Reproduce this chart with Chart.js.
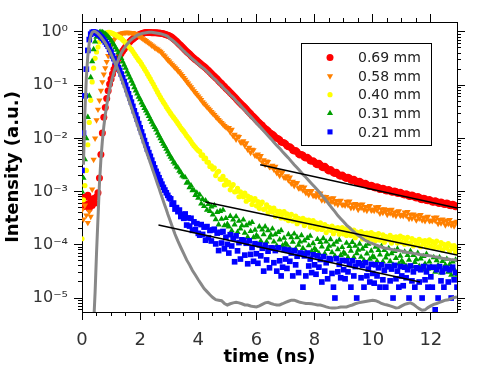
<!DOCTYPE html>
<html>
<head>
<meta charset="utf-8">
<script src="https://cdn.jsdelivr.net/npm/chart.js@4.4.0/dist/chart.umd.min.js"></script>
<style>
  html, body { margin: 0; padding: 0; background: #fff; }
</style>
</head>
<body>
<canvas id="myChart" width="478" height="385"></canvas>
<script>
// time axis of the measured traces (ns), 0.05 ns steps
const time = [
  0, 0.05, 0.1, 0.15, 0.2, 0.25, 0.3, 0.35, 0.4, 0.45,
  0.5, 0.55, 0.6, 0.65, 0.7, 0.75, 0.8, 0.85, 0.9, 0.95,
  1, 1.05, 1.1, 1.15, 1.2, 1.25, 1.3, 1.35, 1.4, 1.45,
  1.5, 1.55, 1.6, 1.65, 1.7, 1.75, 1.8, 1.85, 1.9, 1.95,
  2, 2.05, 2.1, 2.15, 2.2, 2.25, 2.3, 2.35, 2.4, 2.45,
  2.5, 2.55, 2.6, 2.65, 2.7, 2.75, 2.8, 2.85, 2.9, 2.95,
  3,
  3.05, 3.1, 3.15, 3.2, 3.25, 3.3, 3.35, 3.4, 3.45, 3.5,
  3.55, 3.6, 3.65, 3.7, 3.75, 3.8, 3.85, 3.9, 3.95, 4,
  4.05, 4.1, 4.15, 4.2, 4.25, 4.3, 4.35, 4.4, 4.45, 4.5,
  4.55, 4.6, 4.65, 4.7, 4.75, 4.8, 4.85, 4.9, 4.95, 5,
  5.05, 5.1, 5.15, 5.2, 5.25, 5.3, 5.35, 5.4, 5.45, 5.5,
  5.55, 5.6, 5.65, 5.7, 5.75, 5.8, 5.85, 5.9, 5.95, 6,
  6.05, 6.1, 6.15, 6.2, 6.25, 6.3, 6.35, 6.4, 6.45, 6.5,
  6.55, 6.6, 6.65, 6.7, 6.75, 6.8, 6.85, 6.9, 6.95, 7,
  7.05, 7.1, 7.15, 7.2, 7.25, 7.3, 7.35, 7.4, 7.45, 7.5,
  7.55, 7.6, 7.65, 7.7, 7.75, 7.8, 7.85, 7.9, 7.95, 8,
  8.05, 8.1, 8.15, 8.2, 8.25, 8.3, 8.35, 8.4, 8.45, 8.5,
  8.55, 8.6, 8.65, 8.7, 8.75, 8.8, 8.85, 8.9, 8.95, 9,
  9.05, 9.1, 9.15, 9.2, 9.25, 9.3, 9.35, 9.4, 9.45, 9.5,
  9.55, 9.6, 9.65, 9.7, 9.75, 9.8, 9.85, 9.9, 9.95, 10,
  10.05, 10.1, 10.15, 10.2, 10.25, 10.3, 10.35, 10.4, 10.45, 10.5,
  10.55, 10.6, 10.65, 10.7, 10.75, 10.8, 10.85, 10.9, 10.95, 11,
  11.05, 11.1, 11.15, 11.2, 11.25, 11.3, 11.35, 11.4, 11.45, 11.5,
  11.55, 11.6, 11.65, 11.7, 11.75, 11.8, 11.85, 11.9, 11.95, 12,
  12.05, 12.1, 12.15, 12.2, 12.25, 12.3, 12.35, 12.4, 12.45, 12.5,
  12.55, 12.6, 12.65, 12.7, 12.75, 12.8, 12.85, 12.9
];

// 0.69 mm
const red = [
  6.5e-4, 5.2e-4, 7.8e-4, 5.8e-4, 8.5e-4, 4.8e-4, 6.9e-4, 5.5e-4, 7.4e-4, 6.1e-4,
  8.0e-4, 9.5e-4, 1.8e-3, 5.0e-3, 1.26e-2, 2.5e-2, 3.8e-2, 5.6e-2, 7.9e-2, 0.105,
  0.13, 0.162, 0.2, 0.234, 0.275, 0.316, 0.355, 0.4, 0.44, 0.48,
  0.52, 0.575, 0.62, 0.66, 0.71, 0.74, 0.78, 0.81, 0.85, 0.88,
  0.91, 0.93, 0.95, 0.97, 0.98, 0.98, 0.98, 0.98, 0.97, 0.97,
  0.97, 0.965, 0.96, 0.955, 0.95, 0.94, 0.93, 0.91, 0.89, 0.87,
  0.85,
  0.82, 0.79, 0.75, 0.71, 0.67, 0.63, 0.59, 0.555, 0.52, 0.49,
  0.46, 0.43, 0.405, 0.385, 0.36, 0.34, 0.32, 0.305, 0.29, 0.275,
  0.26, 0.247, 0.235, 0.224, 0.212, 0.2, 0.188, 0.177, 0.166, 0.156,
  0.147, 0.138, 0.13, 0.121, 0.114, 0.107, 0.1, 0.094, 0.088, 0.083,
  0.078, 0.073, 0.068, 0.064, 0.06, 0.056, 0.052, 0.049, 0.046, 0.043,
  0.0405, 0.038, 0.0355, 0.033, 0.031, 0.029, 0.027, 0.0255, 0.024, 0.0225,
  0.0208, 0.0197, 0.0184, 0.0176, 0.0162, 0.0154, 0.0147, 0.0139, 0.0129, 0.0124,
  0.0119, 0.0113, 0.0105, 0.0101, 9.9e-3, 9.4e-3, 8.6e-3, 8.4e-3, 8.3e-3, 7.9e-3,
  7.3e-3, 7.0e-3, 7.0e-3, 6.6e-3, 6.0e-3, 5.8e-3, 5.9e-3, 5.6e-3, 5.1e-3, 4.9e-3,
  5.0e-3, 4.8e-3, 4.4e-3, 4.3e-3, 4.4e-3, 4.2e-3, 3.8e-3, 3.7e-3, 3.8e-3, 3.6e-3,
  3.3e-3, 3.2e-3, 3.4e-3, 3.2e-3, 2.9e-3, 2.8e-3, 3.0e-3, 2.8e-3, 2.55e-3, 2.45e-3,
  2.6e-3, 2.45e-3, 2.25e-3, 2.2e-3, 2.3e-3, 2.15e-3, 2.0e-3, 1.95e-3, 2.05e-3, 1.95e-3,
  1.82e-3, 1.76e-3, 1.86e-3, 1.8e-3, 1.66e-3, 1.62e-3, 1.7e-3, 1.62e-3, 1.5e-3, 1.46e-3,
  1.56e-3, 1.5e-3, 1.4e-3, 1.38e-3, 1.44e-3, 1.36e-3, 1.28e-3, 1.25e-3, 1.32e-3, 1.28e-3,
  1.2e-3, 1.17e-3, 1.24e-3, 1.19e-3, 1.1e-3, 1.09e-3, 1.16e-3, 1.12e-3, 1.04e-3, 1.03e-3,
  1.09e-3, 1.05e-3, 9.8e-4, 9.7e-4, 1.03e-3, 1.0e-3, 9.3e-4, 9.2e-4, 9.7e-4, 9.3e-4,
  8.8e-4, 8.6e-4, 9.1e-4, 8.8e-4, 8.2e-4, 8.1e-4, 8.6e-4, 8.4e-4, 7.8e-4, 7.6e-4,
  8.1e-4, 7.8e-4, 7.2e-4, 7.0e-4, 7.5e-4, 7.3e-4, 6.8e-4, 6.7e-4, 7.1e-4, 6.8e-4,
  6.4e-4, 6.3e-4, 6.7e-4, 6.5e-4, 6.1e-4, 6.0e-4, 6.4e-4, 6.2e-4, 5.8e-4, 5.7e-4,
  6.1e-4, 5.9e-4, 5.5e-4, 5.4e-4, 5.8e-4, 5.6e-4, 5.2e-4, 5.3e-4
];

// 0.58 mm
const orange = [
  4.5e-4, 3.0e-4, 5.5e-4, 3.6e-4, 2.6e-4, 4.2e-4, 3.4e-4, 1.1e-3, 4.0e-3, 1.0e-2,
  2.2e-2, 3.5e-2, 5.2e-2, 7.9e-2, 0.115, 0.16, 0.21, 0.275, 0.355, 0.45,
  0.55, 0.63, 0.71, 0.78, 0.83, 0.87, 0.91, 0.93, 0.95, 0.97,
  0.98, 0.98, 0.98, 0.97, 0.97, 0.96, 0.93, 0.91, 0.89, 0.85,
  0.81, 0.78, 0.74, 0.71, 0.68, 0.65, 0.62, 0.59, 0.56, 0.54,
  0.51, 0.49, 0.47, 0.45, 0.43, 0.40, 0.37, 0.35, 0.32, 0.30,
  0.28,
  0.262, 0.245, 0.229, 0.214, 0.2, 0.186, 0.174, 0.162, 0.15, 0.138,
  0.127, 0.117, 0.108, 0.1, 0.092, 0.085, 0.078, 0.072, 0.067, 0.062,
  0.057, 0.053, 0.048, 0.045, 0.042, 0.039, 0.0365, 0.034, 0.0315, 0.0295,
  0.0278, 0.0257, 0.024, 0.0224, 0.021, 0.0197, 0.0184, 0.0172, 0.0164, 0.0155,
  0.0158, 0.0131, 0.0146, 0.0111, 0.0118, 9.6e-3, 0.011, 0.0107, 8.5e-3, 8.4e-3,
  8.9e-3, 7.4e-3, 8.2e-3, 6.2e-3, 6.7e-3, 5.4e-3, 6.2e-3, 6.05e-3, 4.8e-3, 4.75e-3,
  5.0e-3, 4.15e-3, 4.7e-3, 3.6e-3, 3.9e-3, 3.2e-3, 3.7e-3, 3.65e-3, 2.9e-3, 2.95e-3,
  3.1e-3, 2.6e-3, 2.95e-3, 2.25e-3, 2.45e-3, 2.0e-3, 2.3e-3, 2.3e-3, 1.84e-3, 1.85e-3,
  1.97e-3, 1.65e-3, 1.86e-3, 1.42e-3, 1.54e-3, 1.28e-3, 1.46e-3, 1.45e-3, 1.16e-3, 1.16e-3,
  1.25e-3, 1.06e-3, 1.21e-3, 9.5e-4, 1.04e-3, 8.8e-4, 1.02e-3, 1.03e-3, 8.4e-4, 8.6e-4,
  8.1e-4, 9.4e-4, 8.1e-4, 9.3e-4, 6.9e-4, 8.1e-4, 6.8e-4, 8.0e-4, 7.2e-4, 6.1e-4,
  7.5e-4, 6.5e-4, 7.6e-4, 6.0e-4, 6.7e-4, 5.7e-4, 6.7e-4, 6.8e-4, 5.6e-4, 5.8e-4,
  5.5e-4, 6.5e-4, 5.6e-4, 6.6e-4, 4.95e-4, 5.8e-4, 5.0e-4, 5.9e-4, 5.4e-4, 4.6e-4,
  5.7e-4, 5.0e-4, 5.8e-4, 4.6e-4, 5.2e-4, 4.4e-4, 5.2e-4, 5.4e-4, 4.45e-4, 4.65e-4,
  4.4e-4, 5.1e-4, 4.5e-4, 5.2e-4, 3.9e-4, 4.65e-4, 4.0e-4, 4.7e-4, 4.3e-4, 3.7e-4,
  4.55e-4, 3.95e-4, 4.6e-4, 3.65e-4, 4.1e-4, 3.5e-4, 4.2e-4, 4.3e-4, 3.55e-4, 3.7e-4,
  3.5e-4, 4.1e-4, 3.55e-4, 4.15e-4, 3.1e-4, 3.7e-4, 3.15e-4, 3.75e-4, 3.45e-4, 2.9e-4,
  3.6e-4, 3.15e-4, 3.65e-4, 2.9e-4, 3.25e-4, 2.8e-4, 3.3e-4, 3.4e-4, 2.8e-4, 2.9e-4,
  2.8e-4, 3.25e-4, 2.85e-4, 3.3e-4, 2.5e-4, 2.95e-4, 2.55e-4, 3.0e-4, 2.75e-4, 2.35e-4,
  2.9e-4, 2.5e-4, 2.95e-4, 2.35e-4, 2.6e-4, 2.25e-4, 2.65e-4, 2.75e-4
];

// 0.40 mm
const yellow = [
  1.3e-4, 7.0e-4, 1.3e-3, 2.5e-3, 7.6e-3, 2.0e-2, 5.2e-2, 0.115, 0.21, 0.32,
  0.42, 0.52, 0.65, 0.76, 0.83, 0.89, 0.93, 0.96, 0.98, 0.98,
  0.96, 0.94, 0.91, 0.89, 0.85, 0.82, 0.79, 0.76, 0.71, 0.67,
  0.63, 0.59, 0.54, 0.5, 0.47, 0.43, 0.39, 0.355, 0.324, 0.295,
  0.275, 0.248, 0.224, 0.202, 0.182, 0.163, 0.146, 0.131, 0.117, 0.105,
  0.093, 0.083, 0.074, 0.066, 0.059, 0.053, 0.048, 0.0437, 0.039, 0.0355,
  0.0324,
  0.0295, 0.0269, 0.0248, 0.0229, 0.0209, 0.0191, 0.0174, 0.0158, 0.0146, 0.0135,
  0.0123, 0.0112, 0.0104, 9.6e-3, 8.7e-3, 7.9e-3, 7.3e-3, 6.8e-3, 6.3e-3, 5.9e-3,
  5.7e-3, 4.8e-3, 4.9e-3, 4.15e-3, 4.25e-3, 3.6e-3, 3.55e-3, 2.97e-3, 3.05e-3, 2.65e-3,
  2.8e-3, 2.0e-3, 2.3e-3, 2.4e-3, 1.72e-3, 1.7e-3, 1.93e-3, 1.33e-3, 1.62e-3, 1.38e-3,
  1.49e-3, 1.08e-3, 1.26e-3, 1.36e-3, 9.9e-4, 1.0e-3, 1.15e-3, 8.0e-4, 9.85e-4, 8.5e-4,
  8.0e-4, 9.35e-4, 6.6e-4, 8.2e-4, 7.1e-4, 7.75e-4, 5.75e-4, 6.8e-4, 7.35e-4, 5.4e-4,
  6.5e-4, 4.85e-4, 5.8e-4, 6.35e-4, 4.65e-4, 4.75e-4, 5.65e-4, 4.0e-4, 5.0e-4, 4.4e-4,
  4.15e-4, 4.9e-4, 3.45e-4, 4.3e-4, 3.8e-4, 4.25e-4, 3.2e-4, 3.8e-4, 4.2e-4, 3.1e-4,
  3.8e-4, 2.85e-4, 3.4e-4, 3.75e-4, 2.8e-4, 2.95e-4, 3.45e-4, 2.5e-4, 3.15e-4, 2.8e-4,
  2.7e-4, 3.15e-4, 2.3e-4, 2.9e-4, 2.6e-4, 2.9e-4, 2.15e-4, 2.6e-4, 2.85e-4, 2.1e-4,
  2.6e-4, 1.97e-4, 2.35e-4, 2.6e-4, 1.95e-4, 2.05e-4, 2.4e-4, 1.7e-4, 2.2e-4, 1.95e-4,
  1.87e-4, 2.25e-4, 1.62e-4, 2.05e-4, 1.85e-4, 2.1e-4, 1.58e-4, 1.9e-4, 2.1e-4, 1.6e-4,
  1.97e-4, 1.5e-4, 1.8e-4, 2.0e-4, 1.5e-4, 1.58e-4, 1.88e-4, 1.36e-4, 1.73e-4, 1.55e-4,
  1.5e-4, 1.78e-4, 1.29e-4, 1.63e-4, 1.46e-4, 1.66e-4, 1.26e-4, 1.52e-4, 1.69e-4, 1.27e-4,
  1.57e-4, 1.2e-4, 1.45e-4, 1.62e-4, 1.22e-4, 1.28e-4, 1.54e-4, 1.12e-4, 1.43e-4, 1.29e-4,
  1.24e-4, 1.5e-4, 1.08e-4, 1.38e-4, 1.24e-4, 1.41e-4, 1.08e-4, 1.31e-4, 1.46e-4, 1.11e-4,
  1.37e-4, 1.03e-4, 1.25e-4, 1.38e-4, 1.04e-4, 1.09e-4, 1.31e-4, 9.5e-5, 1.21e-4, 1.1e-4,
  1.05e-4, 1.27e-4, 9.2e-5, 1.17e-4, 1.05e-4, 1.2e-4, 9.1e-5, 1.11e-4, 1.24e-4, 9.5e-5,
  1.15e-4, 8.8e-5, 1.06e-4, 1.18e-4, 8.9e-5, 9.3e-5, 1.1e-4, 8.0e-5, 1.02e-4, 9.1e-5,
  8.7e-5, 1.05e-4, 7.6e-5, 9.6e-5, 8.6e-5, 9.7e-5, 7.4e-5, 8.9e-5
];

// 0.31 mm
const green = [
  1.0e-3, 1.8e-3, 4.0e-3, 1.0e-2, 2.5e-2, 6.3e-2, 0.14, 0.28, 0.47, 0.66,
  0.81, 0.91, 0.98, 1.0, 0.98, 0.95, 0.91, 0.87, 0.81, 0.76,
  0.69, 0.63, 0.575, 0.51, 0.46, 0.41, 0.36, 0.32, 0.275, 0.24,
  0.21, 0.18, 0.158, 0.138, 0.12, 0.105, 0.091, 0.079, 0.069, 0.06,
  0.054, 0.047, 0.042, 0.037, 0.033, 0.0295, 0.026, 0.023, 0.0204, 0.018,
  0.0162, 0.0145, 0.0126, 0.0112, 0.01, 8.9e-3, 7.9e-3, 7.1e-3, 6.3e-3, 5.6e-3,
  5.0e-3,
  4.5e-3, 4.1e-3, 3.6e-3, 3.35e-3, 2.95e-3, 2.8e-3, 2.45e-3, 2.3e-3, 2.0e-3, 1.9e-3,
  1.84e-3, 1.46e-3, 1.5e-3, 1.2e-3, 1.3e-3, 1.05e-3, 1.06e-3, 8.6e-4, 9.5e-4, 7.6e-4,
  8.7e-4, 5.9e-4, 7.2e-4, 5.3e-4, 6.8e-4, 4.5e-4, 5.8e-4, 4.3e-4, 5.2e-4, 3.7e-4,
  5.5e-4, 3.0e-4, 4.1e-4, 2.4e-4, 4.3e-4, 3.05e-4, 4.5e-4, 2.3e-4, 3.15e-4, 2.45e-4,
  2.2e-4, 3.45e-4, 1.85e-4, 2.95e-4, 2.4e-4, 3.4e-4, 1.73e-4, 2.8e-4, 2.0e-4, 2.3e-4,
  2.95e-4, 1.67e-4, 2.3e-4, 1.39e-4, 2.5e-4, 1.8e-4, 2.65e-4, 1.38e-4, 1.9e-4, 1.5e-4,
  1.4e-4, 2.2e-4, 1.18e-4, 1.92e-4, 1.56e-4, 2.2e-4, 1.14e-4, 1.87e-4, 1.36e-4, 1.54e-4,
  2.0e-4, 1.14e-4, 1.57e-4, 9.6e-5, 1.72e-4, 1.25e-4, 1.86e-4, 9.7e-5, 1.34e-4, 1.07e-4,
  9.9e-5, 1.57e-4, 8.5e-5, 1.38e-4, 1.13e-4, 1.61e-4, 8.4e-5, 1.38e-4, 9.9e-5, 1.14e-4,
  1.5e-4, 8.6e-5, 1.19e-4, 7.3e-5, 1.33e-4, 9.7e-5, 1.46e-4, 7.5e-5, 1.06e-4, 8.5e-5,
  7.9e-5, 1.27e-4, 6.9e-5, 1.12e-4, 9.2e-5, 1.32e-4, 6.8e-5, 1.14e-4, 8.3e-5, 9.5e-5,
  1.26e-4, 7.2e-5, 1.0e-4, 6.2e-5, 1.13e-4, 8.2e-5, 1.23e-4, 6.4e-5, 9.0e-5, 7.2e-5,
  6.7e-5, 1.08e-4, 5.8e-5, 9.4e-5, 7.7e-5, 1.12e-4, 5.8e-5, 9.5e-5, 6.9e-5, 8.0e-5,
  1.04e-4, 5.9e-5, 8.4e-5, 5.1e-5, 9.4e-5, 6.8e-5, 1.04e-4, 5.4e-5, 7.7e-5, 6.1e-5,
  5.8e-5, 9.1e-5, 4.9e-5, 7.9e-5, 6.5e-5, 9.4e-5, 4.8e-5, 7.9e-5, 5.7e-5, 6.6e-5,
  8.6e-5, 4.9e-5, 6.9e-5, 4.2e-5, 7.6e-5, 5.6e-5, 8.4e-5, 4.4e-5, 6.2e-5, 5.0e-5,
  4.6e-5, 7.4e-5, 4.0e-5, 6.4e-5, 5.2e-5, 7.6e-5, 3.9e-5, 6.4e-5, 4.7e-5, 5.3e-5,
  7.0e-5, 4.0e-5, 5.5e-5, 3.4e-5, 6.1e-5, 4.4e-5, 6.7e-5, 3.5e-5, 4.8e-5, 3.9e-5,
  3.6e-5, 5.8e-5, 3.1e-5, 5.1e-5, 4.1e-5, 5.8e-5, 3.0e-5, 4.9e-5, 3.6e-5, 4.2e-5,
  5.4e-5, 3.1e-5, 4.3e-5, 2.7e-5, 4.8e-5, 3.5e-5, 5.2e-5, 2.7e-5
];

// 0.21 mm
const blue = [
  2.5e-3, 1.26e-2, 6.3e-2, 0.2, 0.45, 0.72, 0.91, 0.98, 1.0, 0.98,
  0.95, 0.91, 0.87, 0.81, 0.76, 0.71, 0.65, 0.59, 0.54, 0.47,
  0.42, 0.355, 0.316, 0.275, 0.245, 0.214, 0.19, 0.162, 0.138, 0.117,
  0.1, 0.083, 0.069, 0.0575, 0.048, 0.04, 0.033, 0.0275, 0.023, 0.019,
  0.0158, 0.0132, 0.011, 9.1e-3, 7.6e-3, 6.3e-3, 5.4e-3, 4.6e-3, 3.9e-3, 3.3e-3,
  2.8e-3, 2.4e-3, 2.1e-3, 1.82e-3, 1.58e-3, 1.38e-3, 1.2e-3, 1.07e-3, 9.5e-4, 8.5e-4,
  7.6e-4,
  7.3e-4, 5.8e-4, 6.1e-4, 4.7e-4, 5.0e-4, 4.2e-4, 4.5e-4, 3.4e-4, 3.7e-4, 3.15e-4,
  3.8e-4, 2.35e-4, 3.2e-4, 2.25e-4, 3.15e-4, 1.87e-4, 2.7e-4, 1.93e-4, 2.5e-4, 1.64e-4,
  1.52e-4, 2.4e-4, 1.57e-4, 2.15e-4, 1.22e-4, 2.2e-4, 1.36e-4, 1.86e-4, 1.18e-4, 1.9e-4,
  1.96e-4, 1.04e-4, 1.66e-4, 7.8e-5, 1.72e-4, 1.08e-4, 1.78e-4, 8.4e-5, 1.39e-4, 1.02e-4,
  7.0e-5, 1.55e-4, 9.5e-5, 1.32e-4, 4.8e-5, 1.47e-4, 7.7e-5, 1.1e-4, 5.4e-5, 1.24e-4,
  1.21e-4, 6.4e-5, 1.07e-4, 4.4e-5, 1.19e-4, 6.6e-5, 8.9e-5, 4.9e-5, 1.05e-4, 6.8e-5,
  4.5e-5, 1.0e-4, 6.2e-5, 8.6e-5, 3.2e-5, 9.8e-5, 5.2e-5, 7.6e-5, 3.7e-5, 8.8e-5,
  8.7e-5, 4.6e-5, 7.8e-5, 3.2e-5, 8.8e-5, 5.0e-5, 2.6e-5, 3.8e-5, 8.2e-5, 5.4e-5,
  3.6e-5, 8.0e-5, 4.9e-5, 7.0e-5, 2.6e-5, 7.8e-5, 4.2e-5, 6.1e-5, 3.0e-5, 7.0e-5,
  6.9e-5, 1.6e-5, 6.2e-5, 2.6e-5, 7.0e-5, 4.0e-5, 5.4e-5, 3.0e-5, 6.5e-5, 4.2e-5,
  2.8e-5, 6.2e-5, 3.8e-5, 5.3e-5, 2.0e-5, 6.0e-5, 3.2e-5, 4.6e-5, 2.3e-5, 5.5e-5,
  5.3e-5, 2.9e-5, 1.6e-5, 1.0e-5, 5.5e-5, 3.1e-5, 4.3e-5, 2.4e-5, 5.1e-5, 3.4e-5,
  2.3e-5, 5.0e-5, 3.1e-5, 4.3e-5, 1.6e-5, 5.0e-5, 2.6e-5, 3.9e-5, 1.0e-5, 4.6e-5,
  4.4e-5, 2.4e-5, 4.1e-5, 1.6e-5, 4.6e-5, 2.6e-5, 3.5e-5, 2.0e-5, 4.3e-5, 2.9e-5,
  1.9e-5, 4.2e-5, 2.6e-5, 3.7e-5, 1.6e-5, 4.2e-5, 2.2e-5, 3.3e-5, 1.6e-5, 3.9e-5,
  3.9e-5, 2.1e-5, 3.5e-5, 1.0e-5, 4.1e-5, 2.3e-5, 3.2e-5, 1.6e-5, 3.9e-5, 2.6e-5,
  1.7e-5, 3.8e-5, 2.4e-5, 3.4e-5, 1.0e-5, 4.0e-5, 2.1e-5, 3.1e-5, 1.6e-5, 3.7e-5,
  3.6e-5, 2.0e-5, 3.4e-5, 1.0e-5, 3.9e-5, 2.2e-5, 3.1e-5, 1.6e-5, 3.8e-5, 2.5e-5,
  1.6e-5, 3.8e-5, 6.0e-6, 3.4e-5, 1.0e-5, 3.9e-5, 2.1e-5, 3.1e-5, 1.6e-5, 3.6e-5,
  3.6e-5, 2.0e-5, 3.4e-5, 1.0e-5, 3.8e-5, 2.2e-5, 3.0e-5, 1.6e-5
];

// time axis of the two grey curves (ns)
const curveTime = [
  0, 0.05, 0.1, 0.15, 0.2, 0.25, 0.3, 0.35, 0.4, 0.45,
  0.5, 0.55, 0.6, 0.65, 0.7, 0.75, 0.8, 0.85, 0.9, 0.95,
  1, 1.05, 1.1, 1.15, 1.2, 1.25, 1.3, 1.35, 1.4, 1.45,
  1.5, 1.55, 1.6, 1.65, 1.7, 1.75, 1.8, 1.85, 1.9, 1.95,
  2, 2.05, 2.1, 2.15, 2.2, 2.25, 2.3, 2.35, 2.4, 2.45,
  2.5, 2.55, 2.6, 2.65, 2.7, 2.75, 2.8, 2.85, 2.9, 2.95,
  3,
  3.1, 3.2, 3.3, 3.4, 3.5, 3.6, 3.7, 3.8, 3.9, 4,
  4.1, 4.2, 4.3, 4.4, 4.5, 4.6, 4.7, 4.8, 4.9, 5,
  5.1, 5.2, 5.3, 5.4, 5.5, 5.6, 5.7, 5.8, 5.9, 6,
  6.1, 6.2, 6.3, 6.4, 6.5, 6.6, 6.7, 6.8, 6.9, 7,
  7.1, 7.2, 7.3, 7.4, 7.5, 7.6, 7.7, 7.8, 7.9, 8,
  8.1, 8.2, 8.3, 8.4, 8.5, 8.6, 8.7, 8.8, 8.9, 9,
  9.1, 9.2, 9.3, 9.4, 9.5, 9.6, 9.7, 9.8, 9.9, 10,
  10.1, 10.2, 10.3, 10.4, 10.5, 10.6, 10.7, 10.8, 10.9, 11,
  11.1, 11.2, 11.3, 11.4, 11.5, 11.6, 11.7, 11.8, 11.9, 12,
  12.1, 12.2, 12.3, 12.4, 12.5, 12.6, 12.7, 12.8, 12.9
];

// grey curve along the 0.21 mm trace (instrument response)
const irf = [
  null, 3.2e-3, 3.2e-2, 0.14, 0.355, 0.63, 0.85, 0.98, 1.02, 1.02,
  0.98, 0.93, 0.87, 0.81, 0.74, 0.68, 0.62, 0.55, 0.49, 0.44,
  0.38, 0.33, 0.29, 0.25, 0.22, 0.186, 0.158, 0.135, 0.115, 0.095,
  0.079, 0.066, 0.055, 0.046, 0.038, 0.0316, 0.0263, 0.0219, 0.0182, 0.0151,
  0.0126, 0.0105, 8.7e-3, 7.2e-3, 6.0e-3, 5.0e-3, 4.2e-3, 3.5e-3, 2.9e-3, 2.4e-3,
  2.0e-3, 1.66e-3, 1.38e-3, 1.15e-3, 9.5e-4, 7.9e-4, 6.6e-4, 5.5e-4, 4.6e-4, 3.8e-4,
  3.2e-4,
  2.24e-4, 1.58e-4, 1.17e-4, 8.9e-5, 6.8e-5, 5.2e-5, 4.2e-5, 3.3e-5, 2.7e-5, 2.2e-5,
  1.82e-5, 1.51e-5, 1.32e-5, 1.15e-5, 1.02e-5, 9.3e-6, 9.1e-6, 8.9e-6, 7.9e-6, 7.4e-6,
  7.8e-6, 8.1e-6, 8.3e-6, 8.1e-6, 7.8e-6, 7.4e-6, 7.4e-6, 7.1e-6, 6.9e-6, 6.8e-6,
  7.1e-6, 7.6e-6, 8.1e-6, 8.3e-6, 7.9e-6, 7.6e-6, 7.4e-6, 7.4e-6, 7.8e-6, 8.3e-6,
  8.7e-6, 9.1e-6, 9.1e-6, 8.7e-6, 8.3e-6, 8.1e-6, 7.9e-6, 7.9e-6, 7.8e-6, 7.6e-6,
  7.4e-6, 7.4e-6, 7.1e-6, 6.8e-6, 6.6e-6, 6.5e-6, 6.5e-6, 6.6e-6, 6.8e-6, 6.8e-6,
  6.8e-6, 7.1e-6, 7.4e-6, 7.8e-6, 8.1e-6, 8.3e-6, 8.5e-6, 8.7e-6, 8.9e-6, 9.1e-6,
  8.9e-6, 8.5e-6, 7.9e-6, 7.6e-6, 7.4e-6, 7.1e-6, 6.8e-6, 6.5e-6, 6.6e-6, 7.1e-6,
  7.6e-6, 7.9e-6, 8.1e-6, 7.6e-6, 6.9e-6, 6.3e-6, 5.9e-6, 6.0e-6, 6.6e-6, 7.1e-6,
  7.6e-6, 7.9e-6, 8.3e-6, 8.7e-6, 9.1e-6, 9.3e-6, 9.8e-6, 1.02e-5, 1.05e-5
];

// grey curve along the 0.69 mm trace
const model = [
  null, null, null, null, null, null, null, null, 3.2e-6, 1.26e-5,
  7.1e-5, 3.2e-4, 1.4e-3, 4.0e-3, 8.9e-3, 0.0166, 0.0275, 0.042, 0.06, 0.083,
  0.11, 0.14, 0.178, 0.214, 0.257, 0.30, 0.35, 0.4, 0.45, 0.49,
  0.54, 0.59, 0.63, 0.68, 0.72, 0.76, 0.79, 0.83, 0.87, 0.89,
  0.91, 0.93, 0.95, 0.96, 0.97, 0.98, 0.99, 0.99, 0.99, 0.98,
  0.97, 0.96, 0.95, 0.94, 0.93, 0.91, 0.89, 0.87, 0.85, 0.82,
  0.77,
  0.71, 0.64, 0.57, 0.5, 0.44, 0.39, 0.35, 0.31, 0.28, 0.25,
  0.225, 0.205, 0.182, 0.162, 0.141, 0.126, 0.11, 0.098, 0.085, 0.076,
  0.066, 0.059, 0.051, 0.045, 0.039, 0.034, 0.0295, 0.0257, 0.0224, 0.0195,
  0.017, 0.0148, 0.0129, 0.0112, 9.8e-3, 8.5e-3, 7.4e-3, 6.5e-3, 5.6e-3, 4.9e-3,
  4.3e-3, 3.7e-3, 3.2e-3, 2.8e-3, 2.45e-3, 2.1e-3, 1.86e-3, 1.62e-3, 1.41e-3, 1.23e-3,
  1.07e-3, 9.3e-4, 7.9e-4, 6.8e-4, 5.75e-4, 4.9e-4, 4.2e-4, 3.55e-4, 3.1e-4, 2.7e-4,
  2.35e-4, 2.1e-4, 1.86e-4, 1.66e-4, 1.51e-4, 1.38e-4, 1.26e-4, 1.17e-4, 1.1e-4, 1.05e-4,
  1.0e-4, 9.5e-5, 9.1e-5, 8.7e-5, 8.5e-5, 8.3e-5, 8.1e-5, 7.9e-5, 7.8e-5, 7.6e-5,
  7.4e-5, 7.2e-5, 7.1e-5, 6.9e-5, 6.8e-5, 6.6e-5, 6.5e-5, 6.3e-5, 6.3e-5, 6.2e-5,
  6.0e-5, 5.9e-5, 5.75e-5, 5.6e-5, 5.5e-5, 5.4e-5, 5.25e-5, 5.25e-5, 5.1e-5
];

// straight tail fits (start / end)
const fitAT = [6.13, 12.9], fitAI = [3.2e-3, 4.9e-4];
const fitBT = [4.24, 12.9], fitBI = [6.4e-4, 6.4e-5];
const fitCT = [2.63, 11.63], fitCI = [2.35e-4, 2.0e-5];

const seriesNames = ['0.69 mm', '0.58 mm', '0.40 mm', '0.31 mm', '0.21 mm'];
const timeLabels = [0, 2, 4, 6, 8, 10, 12];
const decades = [1, 1e-1, 1e-2, 1e-3, 1e-4, 1e-5];

const yMin = 5.46e-6, yMax = 1.54;
const tMin = 0, tMax = 12.9;

Chart.defaults.font.family = 'DejaVu Sans';

function pairs(ts, ys) {
  return ts.map((t, i) => ({x: t, y: ys[i]}));
}

const supMap = {'-': '\u207B', '0': '\u2070', '1': '\u00B9', '2': '\u00B2', '3': '\u00B3', '4': '\u2074', '5': '\u2075'};
function decadeLabel(v) {
  const e = Math.log10(v);
  const r = Math.round(e);
  if (Math.abs(e - r) > 1e-6) return '';
  return '10' + String(r).split('').map(c => supMap[c]).join('');
}

function keepHalfSteps(scale) {
  scale.ticks = scale.ticks.filter(t => Math.abs(t.value * 2 - Math.round(t.value * 2)) < 1e-9);
}
function keepLogSteps(scale) {
  scale.ticks = scale.ticks.filter(t => {
    const m = t.value / Math.pow(10, Math.floor(Math.log10(t.value) + 1e-9));
    return Math.abs(m - Math.round(m)) < 1e-6;
  });
}

function marker(label, ys, style, color, radius, rotation, order) {
  return {
    label: label,
    data: pairs(time, ys),
    pointStyle: style,
    pointRadius: radius,
    pointRotation: rotation,
    pointBorderWidth: 0,
    backgroundColor: color,
    borderColor: color,
    showLine: false,
    order: order,
    inLegend: true
  };
}
function curve(data, color, width, order) {
  return {
    data: data,
    showLine: true,
    pointRadius: 0,
    borderColor: color,
    borderWidth: width,
    backgroundColor: color,
    spanGaps: false,
    order: order
  };
}

// long ticks at the labelled positions, on all four sides
const majorTicks = {
  id: 'majorTicks',
  afterDraw(chart) {
    const {ctx, chartArea: a, scales} = chart;
    const al = p => Math.round(p - 0.5) + 0.5;
    ctx.save();
    ctx.strokeStyle = '#000';
    ctx.lineWidth = 1;
    ctx.beginPath();
    timeLabels.forEach(v => {
      const px = al(scales.x.getPixelForValue(v));
      ctx.moveTo(px, a.bottom); ctx.lineTo(px, a.bottom + 8);
      ctx.moveTo(px, a.top); ctx.lineTo(px, a.top - 8);
    });
    decades.forEach(v => {
      const py = al(scales.y.getPixelForValue(v));
      ctx.moveTo(a.left, py); ctx.lineTo(a.left - 8, py);
      ctx.moveTo(a.right, py); ctx.lineTo(a.right + 8, py);
    });
    ctx.stroke();
    ctx.restore();
  }
};

// framed legend inside the plot
const boxLegend = {
  id: 'boxLegend',
  afterDatasetsDraw(chart) {
    const ctx = chart.ctx;
    ctx.save();
    ctx.fillStyle = '#fff';
    ctx.fillRect(301.5, 43.5, 130, 102);
    ctx.strokeStyle = '#000';
    ctx.lineWidth = 1;
    ctx.strokeRect(301.5, 43.5, 130, 102);
    ctx.font = '14px "DejaVu Sans"';
    ctx.textBaseline = 'middle';
    ctx.textAlign = 'left';
    let row = 0;
    chart.data.datasets.forEach(ds => {
      if (!ds.inLegend) return;
      const y = 57.5 + row * 18.6;
      ctx.fillStyle = ds.backgroundColor;
      Chart.helpers.drawPoint(ctx, {
        pointStyle: ds.pointStyle, radius: Math.min(ds.pointRadius, 3.6),
        rotation: ds.pointRotation, borderWidth: 0
      }, 330, y);
      ctx.fillStyle = '#222';
      ctx.fillText(ds.label, 358, y + 1);
      row++;
    });
    ctx.restore();
  }
};

const ctx = document.getElementById('myChart');

const theChart = new Chart(ctx, {
  type: 'scatter',
  data: {
    datasets: [
      marker(seriesNames[0], red, 'circle', '#ff0000', 3.5, 0, 6),
      marker(seriesNames[1], orange, 'triangle', '#ff8000', 3.6, 180, 5),
      marker(seriesNames[2], yellow, 'circle', '#ffff00', 2.6, 0, 4),
      marker(seriesNames[3], green, 'triangle', '#009e00', 3.6, 0, 3),
      marker(seriesNames[4], blue, 'rect', '#0000ff', 4, 0, 2),
      curve(pairs(curveTime, irf), '#888888', 3, 1),
      curve(pairs(curveTime, model), '#888888', 3, 1),
      curve(pairs(fitAT, fitAI), '#000000', 1.5, 0),
      curve(pairs(fitBT, fitBI), '#000000', 1.5, 0),
      curve(pairs(fitCT, fitCI), '#000000', 1.5, 0)
    ]
  },
  options: {
    responsive: false,
    animation: false,
    layout: { padding: 0 },
    plugins: {
      legend: { display: false },
      tooltip: { enabled: false }
    },
    scales: {
      x: {
        type: 'linear',
        position: 'bottom',
        min: tMin,
        max: tMax,
        afterBuildTicks: keepHalfSteps,
        afterFit: s => { s.height = 73; },
        ticks: {
          stepSize: 0.5,
          autoSkip: false,
          maxRotation: 0,
          color: '#333',
          padding: 14,
          font: { size: 18 },
          callback: v => timeLabels.includes(v) ? String(v) : ''
        },
        grid: { drawOnChartArea: false, tickLength: 4, color: '#000' },
        border: { color: '#000', width: 1 },
        title: {
          display: true,
          text: 'time (ns)',
          color: '#000',
          font: { size: 18, weight: 'bold' },
          padding: { top: 0, bottom: 17 }
        }
      },
      x2: {
        type: 'linear',
        position: 'top',
        min: tMin,
        max: tMax,
        afterBuildTicks: keepHalfSteps,
        afterFit: s => { s.height = 22; },
        ticks: { stepSize: 0.5, autoSkip: false, display: false },
        grid: { drawOnChartArea: false, tickLength: 4, color: '#000' },
        border: { color: '#000', width: 1 }
      },
      y: {
        type: 'logarithmic',
        position: 'left',
        min: yMin,
        max: yMax,
        afterBuildTicks: keepLogSteps,
        afterFit: s => { s.width = 82; },
        ticks: {
          autoSkip: false,
          color: '#333',
          padding: 10,
          font: { size: 16 },
          callback: v => decadeLabel(v)
        },
        grid: { drawOnChartArea: false, tickLength: 4, color: '#000' },
        border: { color: '#000', width: 1 },
        title: {
          display: true,
          text: 'Intensity (a.u.)',
          color: '#000',
          font: { size: 18, weight: 'bold' },
          padding: { top: 3, bottom: 0 }
        }
      },
      y2: {
        type: 'logarithmic',
        position: 'right',
        min: yMin,
        max: yMax,
        afterBuildTicks: keepLogSteps,
        afterFit: s => { s.width = 21; },
        ticks: { autoSkip: false, display: false },
        grid: { drawOnChartArea: false, tickLength: 4, color: '#000' },
        border: { color: '#000', width: 1 }
      }
    }
  },
  plugins: [majorTicks, boxLegend]
});
</script>
</body>
</html>
